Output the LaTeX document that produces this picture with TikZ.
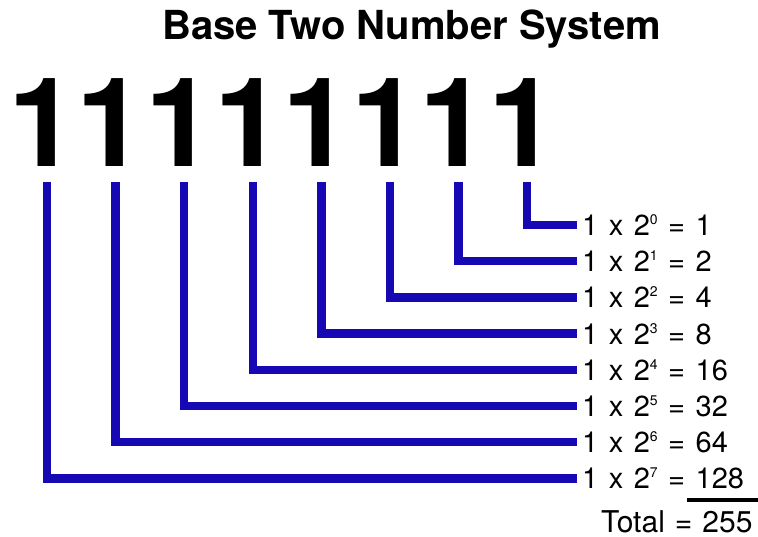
\documentclass[tikz,border=0pt]{standalone}
\usepackage{fontspec}
\setmainfont{TeX Gyre Heros}
\definecolor{wireblue}{RGB}{22,8,178}
\newcommand\pw[1]{\raisebox{11pt}{\fontsize{14}{14}\selectfont #1}}
\newcommand\gp{\hspace*{10.5pt}}
\begin{document}
\begin{tikzpicture}[x=1pt,y=-1pt,
  wire/.style={draw=wireblue, line width=8.5pt, line join=miter, line cap=butt},
  digit/.style={inner sep=0pt, anchor=base, font=\fontsize{124}{124}\selectfont\bfseries},
  title/.style={inner sep=0pt, anchor=base, font=\fontsize{40}{40}\selectfont\bfseries},
  lbl/.style={inner sep=0pt, anchor=base west, font=\fontsize{29}{29}\selectfont},
  rule/.style={draw=black, line width=3.5pt}]
\useasboundingbox[fill=white] (0,0) rectangle (758,537);
\node[title] (title) at (411.5,40) {Base Two Number System};
\foreach \i in {0,...,7}{
  \node[digit] (d\i) at ({42.7+68.6*\i},167) {1};
  \coordinate (s\i) at ({47+68.6*\i},182);
}
\foreach \p/\v in {0/1,1/2,2/4,3/8,4/16,5/32,6/64,7/128}{
  \coordinate (e\p) at (577,{225+36.2*\p});
  \node[lbl] (l\p) at (582,{225+36.2*\p+10.5}) {1\gp x\gp 2\pw{\p}\gp =\gp \v};
}
\foreach \i in {0,...,7}{
  \pgfmathtruncatemacro\p{7-\i}
  \draw[wire] (s\i) |- (e\p);
}
\coordinate (t1) at (687,500);
\coordinate (t2) at (758,500);
\draw[rule] (t1) -- (t2);
\node[lbl, font=\fontsize{30}{30}\selectfont] (total) at (601,532) {Total\hspace*{10pt}=\hspace*{10pt}255};
\end{tikzpicture}
\end{document}
